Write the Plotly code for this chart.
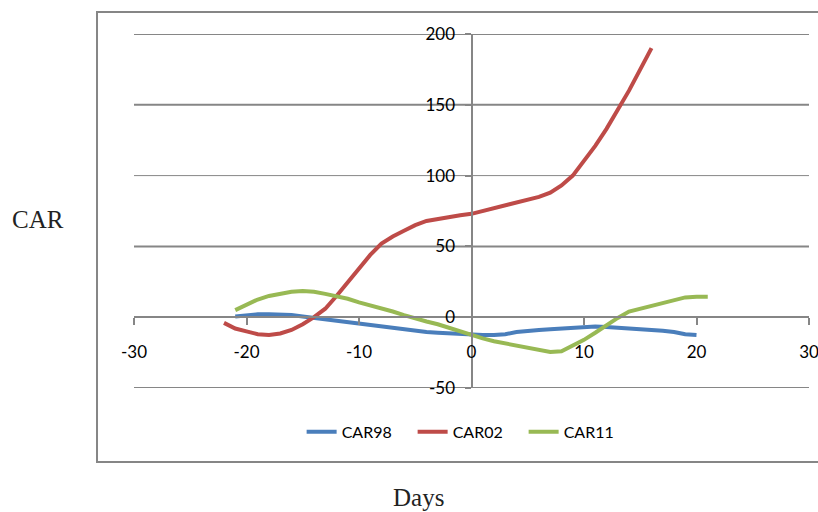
import plotly.graph_objects as go

days98 = list(range(-21, 21))
car98 = [0.5, 1.5, 2, 2, 2, 1.5, 0.5, -0.5, -1.5, -2.5, -3.5, -4.5, -5.5, -6.5, -8, -9,
         -10, -10.5, -11, -11.5, -12, -12.5, -12.5, -12.5, -12, -10.5, -9.5, -9, -8.5, -8,
         -7, -6.5, -6.5, -7, -7.5, -8, -8.5, -8.5, -9.5, -10.5, -12, -12.5]

days02 = list(range(-22, 17))
car02 = [-4, -8, -10, -12, -12.5, -11.5, -9, -5, 0, 6, 15, 25, 35, 44, 52, 57, 61, 65, 68,
         69.5, 71, 72, 73, 75, 77, 78.5, 80.5, 82.5, 85, 88, 93, 100, 110, 121, 133, 146,
         160, 175, 190]

days11 = list(range(-21, 22))
car11 = [5, 9, 12.5, 15, 16.5, 18, 18.5, 18, 16.5, 15, 13, 10.5, 8.5, 6.5, 4, 1.5, -1, -3,
         -5, -7.5, -10.5, -13, -15, -17, -18.5, -20, -21.5, -23, -24.5, -24, -20, -16, -11,
         -5.5, -0.5, 4, 6, 7.5, 10, 12, 14, 14.5, 14.5]

x_ticks = [-30, -20, -10, 0, 10, 20, 30]
x_labels = ["-30", "-20", "-10", "0", "10", "20", "30"]
y_ticks = [-50, 0, 50, 100, 150, 200]
y_labels = ["-50", "0", "50", "100", "150", "200"]
grid_vals = [-50, 50, 100, 150, 200]
grid_widths = [2, 2, 1, 2, 2]

GRAY = "#868686"
fig = go.Figure()
fig.add_trace(go.Scatter(x=days98, y=car98, mode="lines", name="CAR98",
                         line=dict(color="#4A7EBB", width=4)))
fig.add_trace(go.Scatter(x=days02, y=car02, mode="lines", name="CAR02",
                         line=dict(color="#BE4B48", width=4)))
fig.add_trace(go.Scatter(x=days11, y=car11, mode="lines", name="CAR11",
                         line=dict(color="#98B954", width=4)))

shapes = []
for v, w in zip(grid_vals, grid_widths):
    shapes.append(dict(type="line", xref="paper", yref="y", x0=0, x1=1, y0=v, y1=v,
                       line=dict(color=GRAY, width=w), layer="below"))
shapes.append(dict(type="rect", xref="paper", yref="paper", x0=-0.0548, x1=1.2,
                   y0=-0.209, y1=1.062, line=dict(color=GRAY, width=2), layer="below"))

tickfont = dict(family="Lato, 'Open Sans', sans-serif", size=17, color="black")
fig.update_layout(
    width=818, height=512,
    margin=dict(l=134, r=9, t=34, b=124, autoexpand=False),
    paper_bgcolor="white", plot_bgcolor="white",
    showlegend=True,
    legend=dict(orientation="h", x=0.495, y=-0.124, xanchor="center", yanchor="middle",
                font=dict(family="Lato, 'Open Sans', sans-serif", size=16, color="black"),
                entrywidth=66, tracegroupgap=0),
    xaxis=dict(range=[-30, 30], tickvals=x_ticks, ticktext=x_labels, showgrid=False,
               zeroline=False, anchor="free", position=0.2, showline=True, linecolor=GRAY,
               linewidth=2, ticks="outside", ticklen=7, tickcolor=GRAY, tickwidth=2,
               tickfont=tickfont, ticklabelstandoff=12, ticklabeloverflow="allow"),
    yaxis=dict(range=[-50, 200], tickvals=y_ticks, ticktext=y_labels, showgrid=False,
               zeroline=False, anchor="free", position=0.5, showline=True, linecolor=GRAY,
               linewidth=2, ticks="outside", ticklen=6, tickcolor=GRAY, tickwidth=2,
               tickfont=tickfont, ticklabelstandoff=6, ticklabeloverflow="allow"),
    shapes=shapes,
    annotations=[
        dict(text="CAR", xref="paper", yref="paper", x=-0.1415, y=0.4746, showarrow=False,
             xanchor="center", yanchor="middle",
             font=dict(family="Liberation Serif, serif", size=25, color="#222")),
        dict(text="Days", xref="paper", yref="paper", x=0.4215, y=-0.31, showarrow=False,
             xanchor="center", yanchor="middle",
             font=dict(family="Liberation Serif, serif", size=25, color="#222")),
    ],
)
fig.write_html("out.html", config={"displayModeBar": False},
               post_script="document.body.style.margin='0';document.body.style.overflow='hidden';")
